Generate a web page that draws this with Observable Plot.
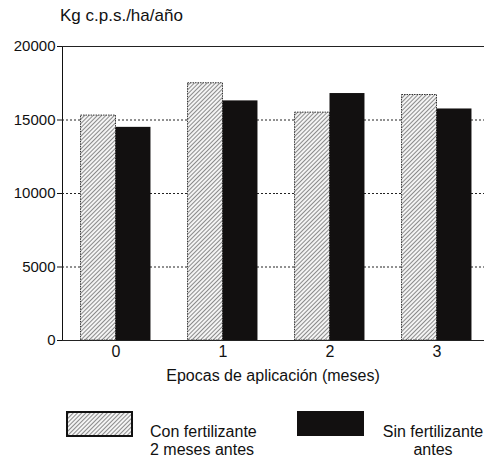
<!DOCTYPE html>
<html>
<head>
<meta charset="utf-8">
<script src="https://cdn.jsdelivr.net/npm/d3@7"></script>
<script src="https://cdn.jsdelivr.net/npm/@observablehq/plot@0.6"></script>
<style>
  html, body { margin: 0; padding: 0; background: #fff; overflow: hidden; width: 484px; height: 458px; }
  body { position: relative; font-family: "Liberation Sans", Arial, sans-serif; color: #111; }
  .t { position: absolute; font-size: 16px; white-space: nowrap; }
  #chart { position: absolute; left: 0; top: 0; width: 490px; }
  #chart svg { max-width: none !important; }
  #chart [aria-label^="fx-axis"] text { font-size: 16px; }
  .sw { position: absolute; box-sizing: border-box; }
</style>
</head>
<body>
<svg width="0" height="0" style="position:absolute">
  <defs>
    <pattern id="hatch" patternUnits="userSpaceOnUse" width="3" height="3" patternTransform="rotate(45)">
      <rect width="3" height="3" fill="#f4f4f4"></rect>
      <line x1="0" y1="0" x2="0" y2="3" stroke="#333" stroke-width="1.1"></line>
    </pattern>
  </defs>
</svg>
<div class="t" style="left:60px; top:6px; font-size:17px;">Kg c.p.s./ha/año</div>
<div id="chart"></div>
<div class="t" style="left:0; width:546px; text-align:center; top:367px;">Epocas de aplicación (meses)</div>
<svg class="sw" style="left:66px; top:411px;" width="67" height="26">
  <rect x="1" y="1" width="65" height="24" fill="url(#hatch)" stroke="#111" stroke-width="2"></rect>
</svg>
<div class="t" style="left:150px; top:423px; line-height:18px;">Con fertilizante<br>2 meses antes</div>
<div class="sw" style="left:297px; top:411px; width:67px; height:25px; background:#121010;"></div>
<div class="t" style="left:378px; width:110px; text-align:center; top:423px; line-height:18px;">Sin fertilizante<br>antes</div>
<script>
const epocas = ["0", "1", "2", "3"];
const series = ["Con fertilizante 2 meses antes", "Sin fertilizante antes"];
const conFertilizante = [15300, 17500, 15500, 16700];
const sinFertilizante = [14500, 16300, 16800, 15750];
const yTicks = [0, 5000, 10000, 15000, 20000];
const gridValues = [5000, 10000, 15000];

const rows = [];
epocas.forEach((e, i) => {
  rows.push({epoca: e, serie: series[0], valor: conFertilizante[i]});
  rows.push({epoca: e, serie: series[1], valor: sinFertilizante[i]});
});

const chart = Plot.plot({
  width: 490,
  height: 370,
  marginLeft: 62,
  marginRight: 0,
  marginTop: 46,
  marginBottom: 30,
  style: {fontFamily: "'Liberation Sans', Arial, sans-serif", fontSize: "15px", color: "#111", background: "transparent", overflow: "visible", maxWidth: "none"},
  facet: {data: rows, x: "epoca"},
  fx: {domain: epocas, padding: 0, paddingInner: 0, paddingOuter: 0, round: false, label: null, tickSize: 0, tickPadding: 5},
  x: {domain: series, paddingInner: 0, paddingOuter: 0.53, round: false, axis: null},
  y: {domain: [0, 20000], ticks: yTicks, tickFormat: "d", tickSize: 5, tickPadding: 2, label: null, line: true},
  marks: [
    Plot.ruleY(gridValues, {stroke: "#222", strokeDasharray: "2,2", strokeWidth: 1}),
    Plot.ruleY([0, 20000], {stroke: "#222", strokeWidth: 1.2}),
    Plot.barY(rows, {filter: d => d.serie === series[0], x: "serie", y: "valor", fill: "url(#hatch)", stroke: "#333", strokeWidth: 1, strokeDasharray: "1.5,1"}),
    Plot.barY(rows, {filter: d => d.serie === series[1], x: "serie", y: "valor", fill: "#121010"})
  ]
});
document.getElementById("chart").appendChild(chart);
</script>
</body>
</html>
